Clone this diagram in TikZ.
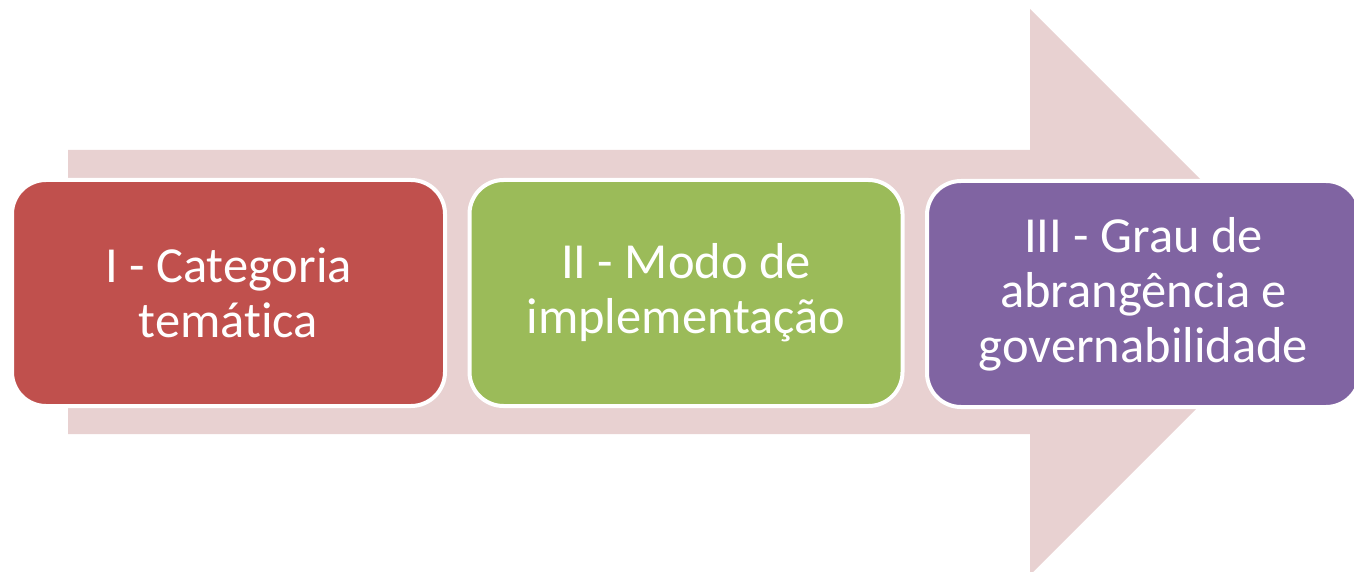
\documentclass[tikz,border=0pt]{standalone}
\usepackage{fontspec}
\setmainfont[RawFeature={-liga}]{Carlito}
\definecolor{arrowpink}{HTML}{E8D1D1}
\definecolor{boxred}{HTML}{C0504D}
\definecolor{boxgreen}{HTML}{9BBB59}
\definecolor{boxpurple}{HTML}{8064A2}
\begin{document}
\begin{tikzpicture}[x=1pt,y=-1pt,
  stagebox/.style={draw=white, line width=4pt, rounded corners=34pt,
    minimum width=433pt, minimum height=226pt, inner sep=0pt,
    text=white, align=center, font=\fontsize{50.5}{55}\selectfont}]
\useasboundingbox (0,0) rectangle (1354,572);
\clip (0,0) rectangle (1354,572);
\fill[arrowpink] (68,150) -- (1030,150) -- (1030,9) -- (1313,292) -- (1030,575) -- (1030,434) -- (68,434) -- cycle;
\node[stagebox, fill=boxred] (b1) at (228.5,293) {I - Categoria\\tem\'atica};
\node[stagebox, fill=boxgreen] (b2) at (686,293) {II - Modo de\\implementa\c{c}\~ao};
\node[stagebox, fill=boxpurple] (b3) at (1143.5,294) {III - Grau de\\abrang\^encia e\\governabilidade};
\end{tikzpicture}
\end{document}
